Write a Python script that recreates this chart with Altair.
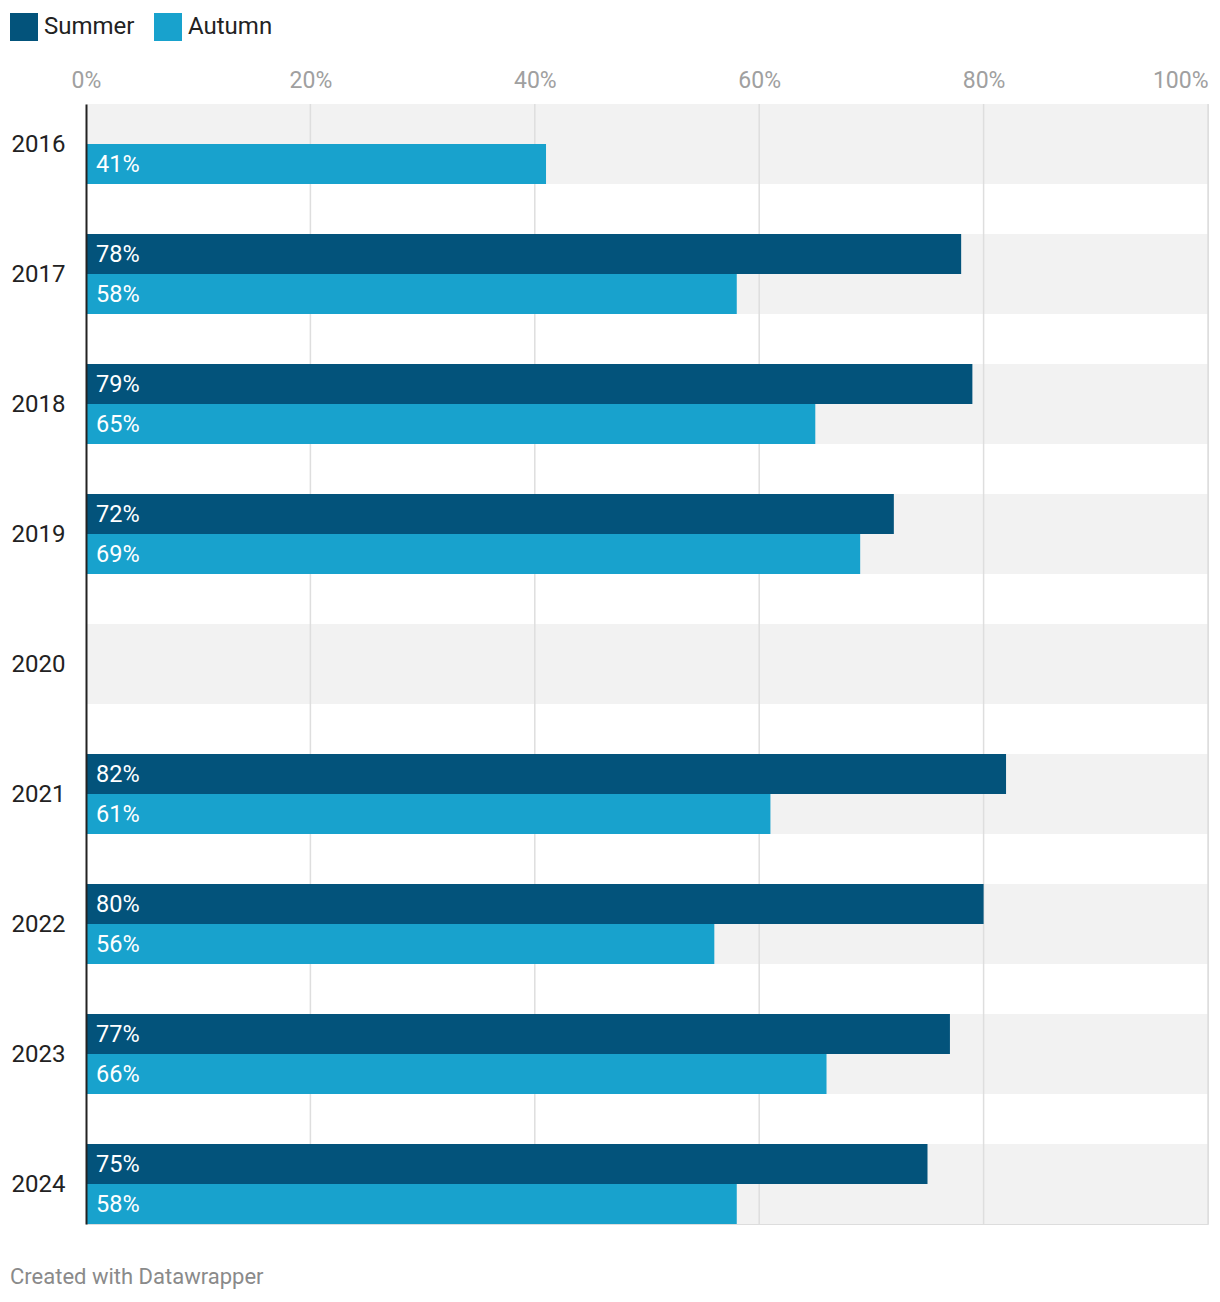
import altair as alt
import pandas as pd

years = ["2016", "2017", "2018", "2019", "2020", "2021", "2022", "2023", "2024"]
summer = [None, 78, 79, 72, None, 82, 80, 77, 75]
autumn = [41, 58, 65, 69, None, 61, 56, 66, 58]
series = ["Summer", "Autumn"]
colors = ["#03537b", "#18a2cd"]
ticks = [0, 20, 40, 60, 80, 100]

rows = []
for y, s, a in zip(years, summer, autumn):
    if s is not None:
        rows.append({"year": y, "series": "Summer", "value": s})
    if a is not None:
        rows.append({"year": y, "series": "Autumn", "value": a})
df = pd.DataFrame(rows)
df["label"] = df["value"].astype(int).astype(str) + "%"
bg = pd.DataFrame({"year": years})
grid = pd.DataFrame({"tick": ticks[1:]})

FONT = "Roboto"
yscale = alt.Scale(domain=years, paddingInner=50 / 130, paddingOuter=0)
xscale = alt.Scale(domain=[0, 100], nice=False, zero=True)
off_scale = alt.Scale(domain=series, paddingInner=0, paddingOuter=0)

y_enc = alt.Y(
    "year:N",
    scale=yscale,
    sort=years,
    axis=alt.Axis(
        title=None,
        ticks=False,
        domain=True,
        domainColor="#222222",
        domainWidth=2,
        labelFontSize=24,
        labelColor="#222222",
        labelPadding=21,
        labelOffset=1,
        labelFont=FONT,
        zindex=2,
    ),
)

background = alt.Chart(bg).mark_bar(color="#f2f2f2").encode(
    y=y_enc,
    x=alt.datum(0, scale=xscale, axis=alt.Axis(
        values=ticks,
        orient="top",
        title=None,
        ticks=False,
        domain=False,
        grid=False,
        labelExpr="datum.value + '%'",
        labelFontSize=23,
        labelColor="#a0a0a0",
        labelFont=FONT,
        labelPadding=12,
        labelAlign={"condition": {"test": "datum.value >= 100", "value": "right"}, "value": "center"},
    )),
    x2=alt.datum(100),
)

gridlines = alt.Chart(grid).mark_rule(color="#dedede", strokeWidth=1.5).encode(
    x=alt.X("tick:Q", scale=xscale),
)

bars = alt.Chart(df).mark_bar().encode(
    y=y_enc,
    yOffset=alt.YOffset("series:N", scale=off_scale, sort=series),
    x=alt.X("value:Q", scale=xscale),
    color=alt.Color(
        "series:N",
        scale=alt.Scale(domain=series, range=colors),
        legend=alt.Legend(
            orient="none",
            legendX=-76,
            legendY=-91,
            direction="horizontal",
            title=None,
            symbolType="square",
            symbolSize=784,
            symbolStrokeWidth=0,
            symbolOpacity=1,
            labelFontSize=24,
            labelColor="#222222",
            labelFont=FONT,
            labelOffset=6,
            columnPadding=19,
            padding=0,
        ),
    ),
)

labels = alt.Chart(df).mark_text(
    align="left", baseline="middle", dx=10, dy=1, color="white", fontSize=23.5, font=FONT
).encode(
    y=y_enc,
    yOffset=alt.YOffset("series:N", scale=off_scale, sort=series),
    x=alt.datum(0),
    text="label:N",
)

chart = alt.layer(background, gridlines, bars, labels).properties(
    width=1122,
    height=1120,
    autosize=alt.AutoSizeParams(type="none"),
    padding={"left": 78, "top": 96, "right": 4, "bottom": 70},
    title=alt.Title(
        "Created with Datawrapper",
        orient="bottom",
        anchor="start",
        dx=0,
        offset=42,
        fontSize=22,
        fontWeight="normal",
        color="#8a8a8a",
        font=FONT,
    ),
).configure_view(stroke=None).configure(font=FONT)

chart.save("out.html", embed_options={"renderer": "svg", "actions": False})
